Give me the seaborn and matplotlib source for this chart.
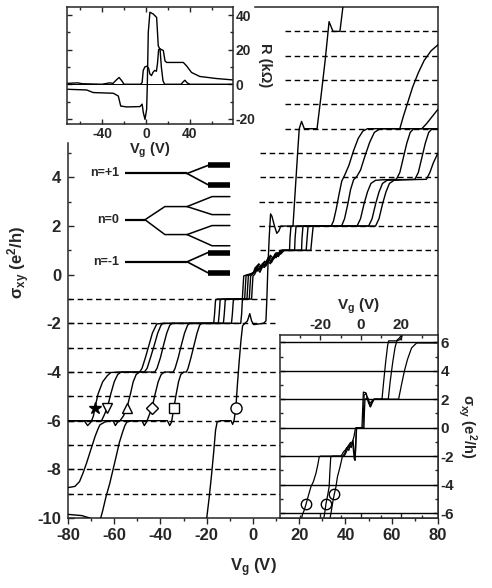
import matplotlib
matplotlib.use('Agg')
import matplotlib.pyplot as plt
import numpy as np
import pandas as pd
import seaborn as sns

sns.set_style('ticks')
plt.rcParams['font.family'] = ['Liberation Sans', 'DejaVu Sans']
plt.rcParams['font.weight'] = 'bold'
plt.rcParams['axes.unicode_minus'] = False
plt.rcParams['mathtext.default'] = 'regular'
plt.rcParams['axes.linewidth'] = 1.1

# ---- main panel: sigma_xy vs Vg, one trace per field ----
star_vg = [-80, -73, -71.5, -70, -69, -68.3, -67, -65, -63, -61.5, -58, -49, -48, -46.5, -45, -43.5, -42, -41.5, -38,
           -17, -16.6, -16.2, -15.5, -4.6, -4.3, -4.0, -2.5, 0, 1, 2, 3.5, 5, 6, 7.5, 9, 10, 11.5, 13,
           25, 25.5, 26, 27, 53, 54.5, 56, 57.5, 59, 61, 65, 75, 76.5, 78, 80]
star_s = [-6, -6, -6.2, -6.05, -5.8, -5.45, -4.9, -4.4, -4.15, -4.02, -4.0, -4.0, -3.85, -3.4, -2.9, -2.4, -2.1, -2.02, -2.0,
          -2.0, -1.6, -1.05, -1.0, -1.0, -0.5, -0.05, 0, 0.05, 0.3, 0.15, 0.35, 0.3, 0.6, 0.45, 0.75, 0.7, 0.95, 1.0,
          1.0, 1.5, 1.97, 2.0, 2.0, 2.3, 2.9, 3.4, 3.75, 3.88, 3.9, 3.92, 4.2, 4.6, 5.0]

tri_dn_vg = [-80, -66, -65.5, -64.5, -63, -61.5, -60, -58.5, -57, -47, -45.8, -44.3, -42.7, -41.2, -39.8, -39,
             -15, -14.6, -14.2, -13.5, -3.6, -3.3, -3.0, -1.8, 0.5, 1.5, 3, 4, 5.5, 6.5, 8, 9.5, 11, 12,
             23, 23.4, 23.8, 24.5, 50, 51.5, 53, 54.5, 56, 58, 62, 70, 71.5, 73, 74.5, 76, 77.5, 80]
tri_dn_s = [-6, -6, -6.0, -5.8, -5.47, -4.9, -4.4, -4.1, -4.0, -4.0, -3.85, -3.4, -2.9, -2.4, -2.08, -2.0,
            -2.0, -1.6, -1.05, -1.0, -1.0, -0.5, -0.05, 0, 0.1, 0.35, 0.2, 0.45, 0.4, 0.7, 0.55, 0.85, 0.8, 1.0,
            1.0, 1.5, 1.97, 2.0, 2.0, 2.3, 2.9, 3.4, 3.75, 3.88, 3.9, 3.92, 4.2, 4.8, 5.4, 5.85, 6.0, 6.0]

tri_up_vg = [-80, -60.5, -59.5, -58.5, -57.5, -56, -54.5, -53, -51.8, -50.5, -49, -42.5, -41.5, -40, -38.7, -37.3, -36, -35,
             -12.8, -12.4, -12.0, -11.3, -2.6, -2.3, -2.0, -1.2, 1, 2, 3.5, 4.5, 6, 7, 8.5, 10, 11.5, 12.5,
             21, 21.2, 21.6, 22.3, 45, 46.5, 48, 49.5, 51, 53, 56, 62, 63.5, 65, 66.5, 68, 69.5, 80]
tri_up_s = [-6, -6, -6.2, -6.05, -6.0, -5.8, -5.47, -4.9, -4.4, -4.1, -4.0, -4.0, -3.85, -3.4, -2.9, -2.4, -2.08, -2.0,
            -2.0, -1.6, -1.05, -1.0, -1.0, -0.5, -0.05, 0, 0.15, 0.4, 0.25, 0.5, 0.45, 0.75, 0.6, 0.9, 0.85, 1.0,
            1.0, 1.5, 1.97, 2.0, 2.0, 2.3, 2.9, 3.4, 3.75, 3.88, 3.9, 3.92, 4.2, 4.8, 5.4, 5.85, 6.0, 6.0]

diam_vg = [-80, -77, -75, -73.5, -72, -70.5, -69.3, -68.3, -67.2, -66.2, -64, -62, -48, -47, -46, -45, -43.7, -42.3, -41,
           -39.7, -38.3, -34.5, -33.7, -32.3, -31, -29.6, -28.3, -27.5, -9.3, -8.9, -8.5, -7.8, -1.6, -1.3, -1.0, -0.4,
           1.5, 2.5, 4, 5, 6.5, 7.5, 9, 10.5, 12, 13.5, 18, 18.2, 18.6, 19.3, 38.3, 39.6, 41, 42.2, 43.5, 45, 46.5,
           48.5, 50.5, 52.5, 55, 73, 75, 77.5, 80]
diam_s = [-8.75, -8.7, -8.5, -8.15, -7.75, -7.3, -6.95, -6.65, -6.38, -6.17, -6.05, -6.0, -6.0, -6.2, -6.05, -5.8, -5.47,
          -4.9, -4.4, -4.1, -4.0, -4.0, -3.85, -3.4, -2.9, -2.4, -2.08, -2.0, -2.0, -1.6, -1.05, -1.0, -1.0, -0.5, -0.05,
          0, 0.2, 0.45, 0.3, 0.55, 0.5, 0.8, 0.65, 0.9, 0.85, 1.0, 1.0, 1.5, 1.97, 2.0, 2.0, 2.3, 2.9, 3.5, 3.9, 4.05,
          4.3, 4.9, 5.45, 5.85, 6.0, 6.0, 6.2, 6.5, 6.8]

sq_vg = [-80, -74, -69, -67, -66, -65, -63.5, -62, -60.5, -59, -57.8, -56.5, -55.4, -54.5, -52, -37, -36, -35.2, -34.7,
         -34.2, -33.2, -32.2, -31.2, -30, -28.8, -28.1, -26.8, -25.5, -24.2, -23.1, -22.3, -5.3, -4.9, -4.6, -4.0,
         -0.6, -0.3, 0.0, 0.6, 2, 3, 4.5, 5.5, 7, 8, 9.5, 11, 12.5, 15.8, 16.0, 16.4, 17.1, 33.8, 34.8, 36, 37.2,
         38.4, 39.7, 41.5, 43.5, 45.5, 47.5, 49.5, 63.5, 65, 67, 69, 71.5, 74, 77, 80]
sq_s = [-9.85, -9.9, -10.05, -10.15, -10.05, -9.7, -9.1, -8.6, -8.0, -7.4, -6.9, -6.5, -6.2, -6.05, -6.0, -6.0, -6.2,
        -6.05, -5.75, -5.47, -4.9, -4.4, -4.1, -4.0, -4.0, -3.85, -3.4, -2.9, -2.4, -2.08, -2.0, -2.0, -1.6, -1.05, -1.0,
        -1.0, -0.5, -0.05, 0, 0.25, 0.1, 0.4, 0.35, 0.6, 0.5, 0.8, 0.75, 1.0, 1.0, 1.5, 1.97, 2.0, 2.0, 2.2, 2.7, 3.3,
        3.85, 4.1, 4.5, 5.1, 5.6, 5.9, 6.0, 6.0, 6.5, 7.1, 7.7, 8.3, 8.8, 9.2, 9.45]

circ_vg = [-21.5, -20, -19, -18, -17, -16.2, -15.5, -14, -9.5, -8.8, -8.2, -7.4, -6.8, -6.0, -5.2, -4.5, -3.5, -2.4,
           -1.4, -0.6, 0.3, 4.5, 5.6, 6.0, 6.4, 7.0, 7.6, 8.2, 9.3, 10.3, 11.2, 12, 17.3, 18.3, 19.3, 20, 21, 22.2,
           27.7, 29.5, 31.2, 32.9, 34.6, 37.6, 38.5, 39.5]
circ_s = [-10.5, -10, -9.2, -8.3, -7.3, -6.4, -6.05, -6.0, -6.0, -6.15, -6.0, -5.47, -4.6, -3.6, -2.7, -2.1, -2.0, -1.9,
          -1.6, -1.9, -2.05, -2.0, -1.9, -1.0, 0.2, 1.5, 2.5, 2.4, 2.0, 1.7, 1.8, 2.0, 2.0, 3.5, 5.0, 6.0, 6.3, 6.0,
          6.0, 7.4, 8.8, 10.4, 10.0, 10.0, 10.7, 11.5]

marker_names = ['star', 'tri_dn', 'tri_up', 'diam', 'sq', 'circ']
marker_vg = [-68.3, -63, -54.5, -43.7, -34.2, -7.4]
marker_s = [-5.47, -5.47, -5.47, -5.47, -5.47, -5.47]

# dashed guide levels and where each dashed line starts / ends (V)
guide_levels = [10, 9, 8, 7, 6, 5, 4, 3, 2, 1, 0, -1, -2, -3, -4, -5, -6, -7, -8, -9]
guide_start = [13.8, 13.8, 13.8, 13.8, 13.8, 3.0, 3.0, 2.6, 2.6, 3.0, 10.8, -80, -80, -80, -80, -80, -80, -80, -80, -80]
guide_end = [80, 80, 80, 80, 80, 80, 80, 80, 80, 80, 80, 9.5, 9.5, 80, 80, 80, 80, 80, 80, 80]

# Landau-level splitting sketch (drawn in main-panel units)
lvl_x = [-55.4, -46.7, -38.1, -28.5, -19.5, -17.7, -10.0]
n1_y, n0_y, nm1_y = 4.16, 2.26, 0.53
n1_split = [4.49, 3.70]
n0_split1 = [2.80, 1.65]
n0_split2 = [3.21, 2.47, 2.02, 1.19]
nm1_split = [0.91, 0.08]

# ---- top-left inset: R vs Vg ----
rxy_vg = [-72, -54, -48, -29.7, -25.2, -23, -17.5, -5.5, -3.5, -2.4, -0.9, 0.6, 1.2, 2.1, 3.6, 6.6, 9.7, 11.2, 12.5,
          15.8, 17.3, 18.8, 34, 37, 41.5, 49, 64.3, 79.4]
rxy_r = [-2.9, -3.3, -4.8, -5.2, -6.8, -12.6, -13.1, -12.9, -11.5, -16.4, -20.3, -14.5, -1, 30, 41.6, 40.6, 38.6,
         22.2, 20.5, 19.5, 13.5, 12.6, 12.6, 10.6, 6.8, 4.5, 3.3, 2.5]
rxx_vg = [-72, -62, -58, -40, -33, -30, -27, -24.5, -22, -20, -5, -3.5, -2.5, -1, 1, 2.5, 3.5, 5, 6.5, 8, 9.5, 10.5,
          11.5, 12.8, 14, 15.5, 17, 32, 34, 35.5, 37.5, 40, 79]
rxx_r = [0.5, 0.8, 0.3, 0, 0.8, 0.5, 2.5, 3.9, 2.0, 0, 0, 1, 8, 10, 10.5, 9, 6, 5, 7, 8, 7.5, 12, 20, 20.5, 10, 2, 0,
         0, 1.5, 2.3, 0.8, 0, 0]

# ---- bottom-right inset: low-field traces ----
low1_vg = [-29.5, -28.9, -28.0, -27.1, -26.0, -24.7, -23.5, -22.2, -21.3, -20.6, -20.0, -9.8, -8.6, -7.6, -6.4, -5.2,
           -4.2, -3.4, -2.8, -2.5, 0.5, 0.9, 1.2, 2.4, 3.4, 4.5, 5.6, 6.5, 10.4, 11.2, 12.2, 13.2, 13.7, 17.5, 19.0, 20.0]
low1_s = [-6.5, -6.1, -5.8, -5.37, -4.8, -4.15, -3.8, -3.2, -2.6, -2.05, -2.0, -2.0, -1.7, -1.55, -1.3, -1.05, -1.0,
          -0.6, -0.1, 0.0, 0.0, 1.5, 2.5, 2.45, 2.0, 1.5, 1.85, 2.0, 2.0, 3.2, 4.6, 5.8, 6.1, 6.1, 6.3, 6.5]
low2_vg = [-18.5, -17.9, -17.3, -16.5, -15.7, -15.3, -14.9, -14.0, -9.0, -8.0, -7.0, -6.0, -5.0, -4.0, -3.3, -2.9, -2.6,
           -2.3, -2.0, 1.0, 1.3, 1.6, 2.6, 3.6, 4.7, 5.8, 6.5, 13.5, 14.5, 15.7, 16.8, 17.7, 19.5, 20.5]
low2_s = [-6.5, -6.0, -5.37, -4.8, -4.15, -3.0, -2.05, -2.0, -2.0, -1.8, -1.4, -1.6, -1.1, -1.2, -2.2, -2.3, -1.2,
          -0.15, 0.0, 0.0, 1.2, 2.3, 2.4, 1.8, 1.45, 1.8, 2.0, 2.0, 3.3, 4.6, 5.6, 6.1, 6.2, 6.5]
low3_vg = [-15.5, -14.9, -14.0, -13.2, -12.4, -11.6, -10.4, -9.2, -8.3, -7.5, -6.6, -5.8, -4.8, -3.9, -3.2, -2.8, -2.4,
           -2.1, 1.5, 1.7, 2.0, 3.4, 4.4, 5.6, 6.5, 18.6, 20.0, 21.5, 23.0, 25.0, 27.5, 38]
low3_s = [-6.5, -6.1, -5.3, -4.69, -4.2, -3.45, -2.8, -2.05, -2.0, -1.8, -1.5, -1.25, -1.4, -0.9, -1.8, -2.1, -0.8,
          0.0, 0.0, 1.0, 2.0, 2.1, 1.7, 1.9, 2.0, 2.0, 3.0, 4.0, 4.8, 5.6, 5.95, 5.95]
low_circle_vg = [-27.1, -17.3, -13.2]
low_circle_s = [-5.37, -5.37, -4.69]
inset_levels = [-6, -4, -2, 0, 2, 4, 6]

main_traces = {'star': (star_vg, star_s), 'tri_dn': (tri_dn_vg, tri_dn_s), 'tri_up': (tri_up_vg, tri_up_s),
               'diam': (diam_vg, diam_s), 'sq': (sq_vg, sq_s), 'circ': (circ_vg, circ_s)}
low_traces = {'a': (low1_vg, low1_s), 'b': (low2_vg, low2_s), 'c': (low3_vg, low3_s)}


def long_form(traces):
    rows = []
    for name, (vg, s) in traces.items():
        rows += [(name, a, b) for a, b in zip(vg, s)]
    return pd.DataFrame(rows, columns=['curve', 'Vg', 'sxy'])


fig = plt.figure(figsize=(4.92, 5.88), dpi=100)
ax = fig.add_axes([0.1382, 0.119, 0.752, 0.869])

ax.hlines(guide_levels, guide_start, guide_end, colors='k', linestyles=(0, (4, 2.6)), lw=1.0, zorder=1)
sns.lineplot(data=long_form(main_traces), x='Vg', y='sxy', units='curve', estimator=None, sort=False,
             color='k', lw=1.0, ax=ax, zorder=3, legend=False)

mk_style = {'star': '*', 'tri_dn': 'v', 'tri_up': '^', 'diam': 'D', 'sq': 's', 'circ': 'o'}
mk_size = {'star': 9, 'tri_dn': 7.5, 'tri_up': 7.5, 'diam': 6.5, 'sq': 6.5, 'circ': 8}
for name, xv, yv in zip(marker_names, marker_vg, marker_s):
    face = 'k' if name == 'star' else 'white'
    ax.plot(xv, yv, marker=mk_style[name], ms=mk_size[name], mfc=face, mec='k', mew=1.0, ls='none', zorder=5)

# level sketch
lk = dict(color='k', lw=1.6, solid_capstyle='butt', zorder=4)
ax.plot([lvl_x[0], lvl_x[3]], [n1_y, n1_y], **lk)
ax.plot([lvl_x[0], lvl_x[3]], [nm1_y, nm1_y], **lk)
for yy in n1_split:
    ax.plot([lvl_x[3], lvl_x[4]], [n1_y, yy], color='k', lw=1.2, zorder=4)
    ax.plot([lvl_x[4], lvl_x[6]], [yy, yy], color='k', lw=4.0, solid_capstyle='butt', zorder=4)
for yy in nm1_split:
    ax.plot([lvl_x[3], lvl_x[4]], [nm1_y, yy], color='k', lw=1.2, zorder=4)
    ax.plot([lvl_x[4], lvl_x[6]], [yy, yy], color='k', lw=4.0, solid_capstyle='butt', zorder=4)
ax.plot([lvl_x[0], lvl_x[1]], [n0_y, n0_y], **lk)
for i, yy in enumerate(n0_split1):
    ax.plot([lvl_x[1], lvl_x[2], lvl_x[3]], [n0_y, yy, yy], color='k', lw=1.1, zorder=4)
    for y2 in n0_split2[2 * i:2 * i + 2]:
        ax.plot([lvl_x[3], lvl_x[5], lvl_x[6]], [yy, y2, y2], color='k', lw=1.1, zorder=4)
for lab, yy in zip(['n=+1', 'n=0', 'n=-1'], [n1_y, n0_y, nm1_y]):
    ax.text(lvl_x[0] - 2.5, yy, lab, ha='right', va='center', fontsize=9, fontweight='bold')

ax.set_xlim(-80, 80)
ax.set_ylim(-10, 11)
ax.set_xticks(np.arange(-80, 81, 20))
ax.set_xticks(np.arange(-70, 80, 20), minor=True)
ax.set_yticks(np.arange(-10, 5, 2))
ax.set_yticks(np.arange(-9, 6, 2), minor=True)
ax.spines['left'].set_bounds(-10, 5.4)
ax.spines['top'].set_bounds(0.9, 80)
ax.tick_params(axis='x', which='major', direction='out', length=4, width=1, labelsize=12, pad=3)
ax.tick_params(axis='x', which='minor', direction='out', length=2.5, width=1)
ax.tick_params(axis='y', which='major', direction='in', length=4, width=1, labelsize=12, pad=5)
ax.tick_params(axis='y', which='minor', direction='in', length=2.5, width=1)
ax.set_xlabel('V$_g$ (V)', fontsize=12, fontweight='bold', labelpad=10)
ax.set_ylabel('σ$_{xy}$ (e$^2$/h)', fontsize=12, fontweight='bold', labelpad=4)

# top-left inset
ax1 = fig.add_axes([0.136, 0.789, 0.337, 0.199])
ax1.axhline(0, color='k', lw=0.7)
r_df = pd.DataFrame({'Vg': rxy_vg + rxx_vg, 'R': rxy_r + rxx_r,
                     'kind': ['xy'] * len(rxy_vg) + ['xx'] * len(rxx_vg)})
sns.lineplot(data=r_df, x='Vg', y='R', units='kind', estimator=None, sort=False, color='k', lw=1.0,
             ax=ax1, legend=False)
ax1.set_xlim(-72, 79)
ax1.set_ylim(-23, 44.6)
ax1.set_xticks([-40, 0, 40])
ax1.set_xticks([-60, -20, 20, 60], minor=True)
ax1.set_yticks([-20, 0, 20, 40])
ax1.set_yticks([-10, 10, 30], minor=True)
ax1.yaxis.tick_right()
ax1.yaxis.set_label_position('right')
ax1.tick_params(which='both', direction='in', top=True, left=True, right=True, width=1)
ax1.tick_params(which='major', length=3.5, labelsize=10, pad=2)
ax1.tick_params(which='minor', length=2)
ax1.set_xlabel('V$_g$ (V)', fontsize=10.5, fontweight='bold', labelpad=0)
ax1.set_ylabel('R (kΩ)', fontsize=10.5, fontweight='bold', rotation=270, labelpad=12)

# bottom-right inset
ax2 = fig.add_axes([0.569, 0.119, 0.321, 0.311])
ax2.set_facecolor('white')
ax2.hlines(inset_levels, -40, 38, colors='k', lw=1.0)
sns.lineplot(data=long_form(low_traces), x='Vg', y='sxy', units='curve', estimator=None, sort=False,
             color='k', lw=0.9, ax=ax2, legend=False)
ax2.plot(low_circle_vg, low_circle_s, 'o', ms=7.5, mfc='none', mec='k', mew=1.0)
ax2.set_xlim(-40, 38)
ax2.set_ylim(-6.35, 6.5)
ax2.set_xticks([-20, 0, 20])
ax2.set_xticks([-30, -10, 10, 30], minor=True)
ax2.set_yticks(inset_levels)
ax2.set_yticks([-5, -3, -1, 1, 3, 5], minor=True)
ax2.xaxis.tick_top()
ax2.xaxis.set_label_position('top')
ax2.yaxis.tick_right()
ax2.yaxis.set_label_position('right')
ax2.tick_params(which='both', direction='in', top=True, bottom=True, left=True, right=True, width=1)
ax2.tick_params(which='major', length=3.5, labelsize=11, pad=2)
ax2.tick_params(which='minor', length=2)
ax2.set_xlabel('V$_g$ (V)', fontsize=11, fontweight='bold', labelpad=6)
ax2.set_ylabel('σ$_{xy}$ (e$^2$/h)', fontsize=10.5, fontweight='bold', rotation=270, labelpad=18)

fig.savefig('out.png', dpi=100)
